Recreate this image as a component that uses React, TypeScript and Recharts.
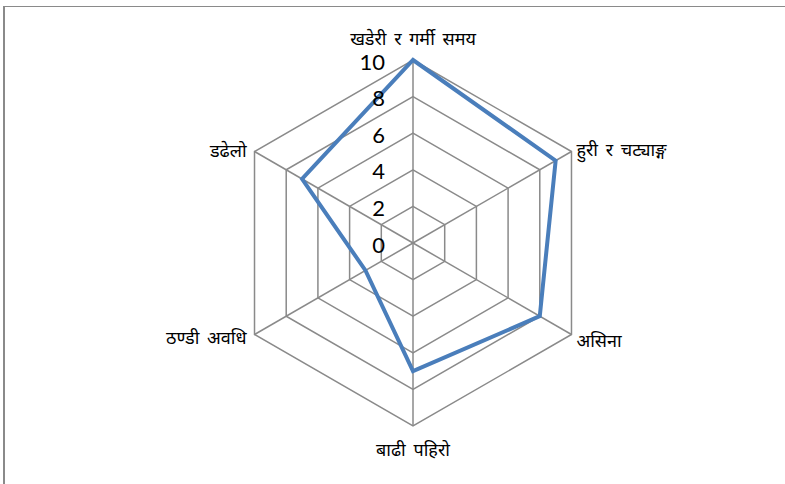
import { RadarChart, Radar, PolarGrid, PolarAngleAxis, PolarRadiusAxis } from "recharts";

const hazards = [
  "खडेरी र गर्मी समय",
  "हुरी र चट्याङ्ग",
  "असिना",
  "बाढी पहिरो",
  "ठण्डी अवधि",
  "डढेलो",
];
const scores = [10, 9, 8, 7, 3, 7];
const radiusTicks = [0, 2, 4, 6, 8, 10];

const data = hazards.map((name, i) => ({ name, score: scores[i] }));

const LABEL_FONT = "'Noto Sans', 'DejaVu Sans', sans-serif";
const NUM_FONT = "Lato, 'Liberation Sans', sans-serif";

function AngleTick(props: any) {
  const { x, y, payload, textAnchor, cy } = props;
  let dx = 0;
  let dy = 0;
  if (textAnchor === "middle") {
    dy = y < cy ? -14 : 15;
  } else if (textAnchor === "start") {
    dx = -2;
    dy = 1;
  } else {
    dx = -1;
    dy = y < cy ? 2 : -2;
  }
  return (
    <text
      x={x + dx}
      y={y + dy}
      textAnchor={textAnchor}
      dominantBaseline="central"
      fontFamily={LABEL_FONT}
      fontSize={18}
      wordSpacing={3}
      fill="#000"
    >
      {payload.value}
    </text>
  );
}

function RadiusTick(props: any) {
  const { x, y, payload } = props;
  return (
    <text
      x={x - 28}
      y={y + 1}
      textAnchor="end"
      dominantBaseline="central"
      fontFamily={NUM_FONT}
      fontSize={22}
      fill="#000"
    >
      {payload.value}
    </text>
  );
}

export default function App() {
  return (
    <div
      style={{
        position: "absolute",
        left: 0,
        top: 0,
        width: 785,
        height: 484,
        background: "#fff",
        overflow: "hidden",
      }}
    >
      <div
        style={{
          position: "absolute",
          left: 3,
          top: 6,
          right: -10,
          bottom: -10,
          borderLeft: "2px solid #8a8a8a",
          borderTop: "1px solid #8a8a8a",
        }}
      />
      <div style={{ position: "absolute", left: 0, top: 0 }}>
        <RadarChart
          width={785}
          height={484}
          data={data}
          cx={413}
          cy={243}
          outerRadius={183}
          margin={{ top: 0, right: 0, bottom: 0, left: 0 }}
        >
          <PolarGrid gridType="polygon" stroke="#8a8a8a" strokeWidth={1.5} />
          <PolarAngleAxis
            dataKey="name"
            tick={(p: any) => <AngleTick {...p} cy={243} />}
            tickLine={false}
            axisLine={false}
          />
          <PolarRadiusAxis
            angle={90}
            domain={[0, 10]}
            ticks={radiusTicks as any}
            tickCount={6}
            axisLine={false}
            tickLine={false}
            tick={(p: any) => <RadiusTick {...p} />}
          />
          <Radar
            dataKey="score"
            stroke="#4A7EBB"
            strokeWidth={4}
            fill="none"
            fillOpacity={0}
            dot={false}
            isAnimationActive={false}
          />
        </RadarChart>
      </div>
    </div>
  );
}
